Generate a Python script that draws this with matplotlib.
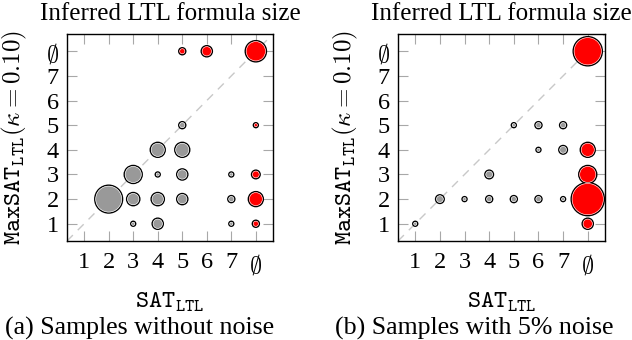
import numpy as np
import matplotlib
matplotlib.use("Agg")
import matplotlib.pyplot as plt

plt.rcParams['font.family'] = ['Liberation Serif', 'DejaVu Serif']
plt.rcParams['mathtext.fontset'] = 'custom'
plt.rcParams['mathtext.rm'] = 'Liberation Serif'
plt.rcParams['mathtext.it'] = 'Liberation Serif:italic'

# 8 stands for the empty set (no formula found)
tick_labels = ['1', '2', '3', '4', '5', '6', '7', r'$\emptyset$']

# (a) samples without noise: x = SAT_LTL size, y = MaxSAT_LTL size, count
a_x = [5, 6, 8, 5, 8, 4, 5, 3, 4, 5, 7, 8, 2, 3, 4, 5, 7, 8, 3, 4, 7, 8]
a_y = [8, 8, 8, 5, 5, 4, 4, 3, 3, 3, 3, 3, 2, 2, 2, 2, 2, 2, 1, 1, 1, 1]
a_n = [2, 5, 18, 2, 1, 9, 9, 13, 1, 5, 1, 3, 31, 7, 7, 5, 2, 9, 1, 5, 1, 2]

# (b) samples with 5% noise
b_x = [8, 5, 6, 7, 6, 7, 8, 4, 8, 2, 3, 4, 5, 6, 7, 8, 1, 8]
b_y = [8, 5, 5, 5, 4, 4, 4, 3, 3, 2, 2, 2, 2, 2, 2, 2, 1, 1]
b_n = [34, 1, 2, 2, 1, 3, 9, 3, 13, 3, 1, 2, 2, 2, 1, 44, 1, 5]

titles = ['Inferred LTL formula size', 'Inferred LTL formula size']
captions = ['(a) Samples without noise', '(b) Samples with 5% noise']

fig = plt.figure(figsize=(6.32, 3.40), dpi=100)
FS = 18


def panel(rect, xs, ys, ns, title, caption, cap_x):
    ax = fig.add_axes(rect)
    lo, hi = 0.3, 8.7
    ax.plot([lo, hi], [lo, hi], ls=(0, (6, 5)), color='#c8c8c8', lw=1.0, zorder=1)
    xs = np.array(xs); ys = np.array(ys); ns = np.array(ns)
    d_pt = 5 * np.sqrt(ns) * 0.72
    cols = np.where((xs == 8) | (ys == 8), '#ff0000', '#999999')
    ax.scatter(xs, ys, s=d_pt**2, c=cols, edgecolors='black', linewidths=1.0, zorder=3)
    ax.scatter(xs, ys, s=np.maximum(d_pt - 1.4, 0.5)**2, c=cols, edgecolors='white',
               linewidths=0.4, zorder=4)
    ax.set_xlim(lo, hi)
    ax.set_ylim(lo, hi)
    ax.set_xticks(range(1, 9))
    ax.set_yticks(range(1, 9))
    ax.set_xticklabels(tick_labels, fontsize=17.5)
    ax.set_yticklabels(tick_labels, fontsize=17.5)
    ax.tick_params(direction='in', length=7.5, width=0.8, color='#a8a8a8',
                   top=True, right=True, pad=6)
    ax.tick_params(axis='x', pad=8)
    for sp in ax.spines.values():
        sp.set_linewidth(1.0)
    ax.set_title(title, fontsize=FS, pad=10)
    ax.set_xlabel(r'$\mathtt{SAT}_{\mathtt{LTL}}$', fontsize=FS, labelpad=10,
                  math_fontfamily='cm')
    ax.set_ylabel(r'$\mathtt{MaxSAT}_{\mathtt{LTL}}(\kappa = 0.10)$', fontsize=FS,
                  labelpad=12, math_fontfamily='cm')
    fig.text(cap_x, 0.034, caption, fontsize=18.6, ha='center', va='center')
    return ax


panel([67 / 632, 99 / 340, 206 / 632, 207 / 340], a_x, a_y, a_n, titles[0], captions[0], 140 / 632)
panel([398 / 632, 99 / 340, 207 / 632, 207 / 340], b_x, b_y, b_n, titles[1], captions[1], 474 / 632)

fig.savefig('out.png', dpi=100)
